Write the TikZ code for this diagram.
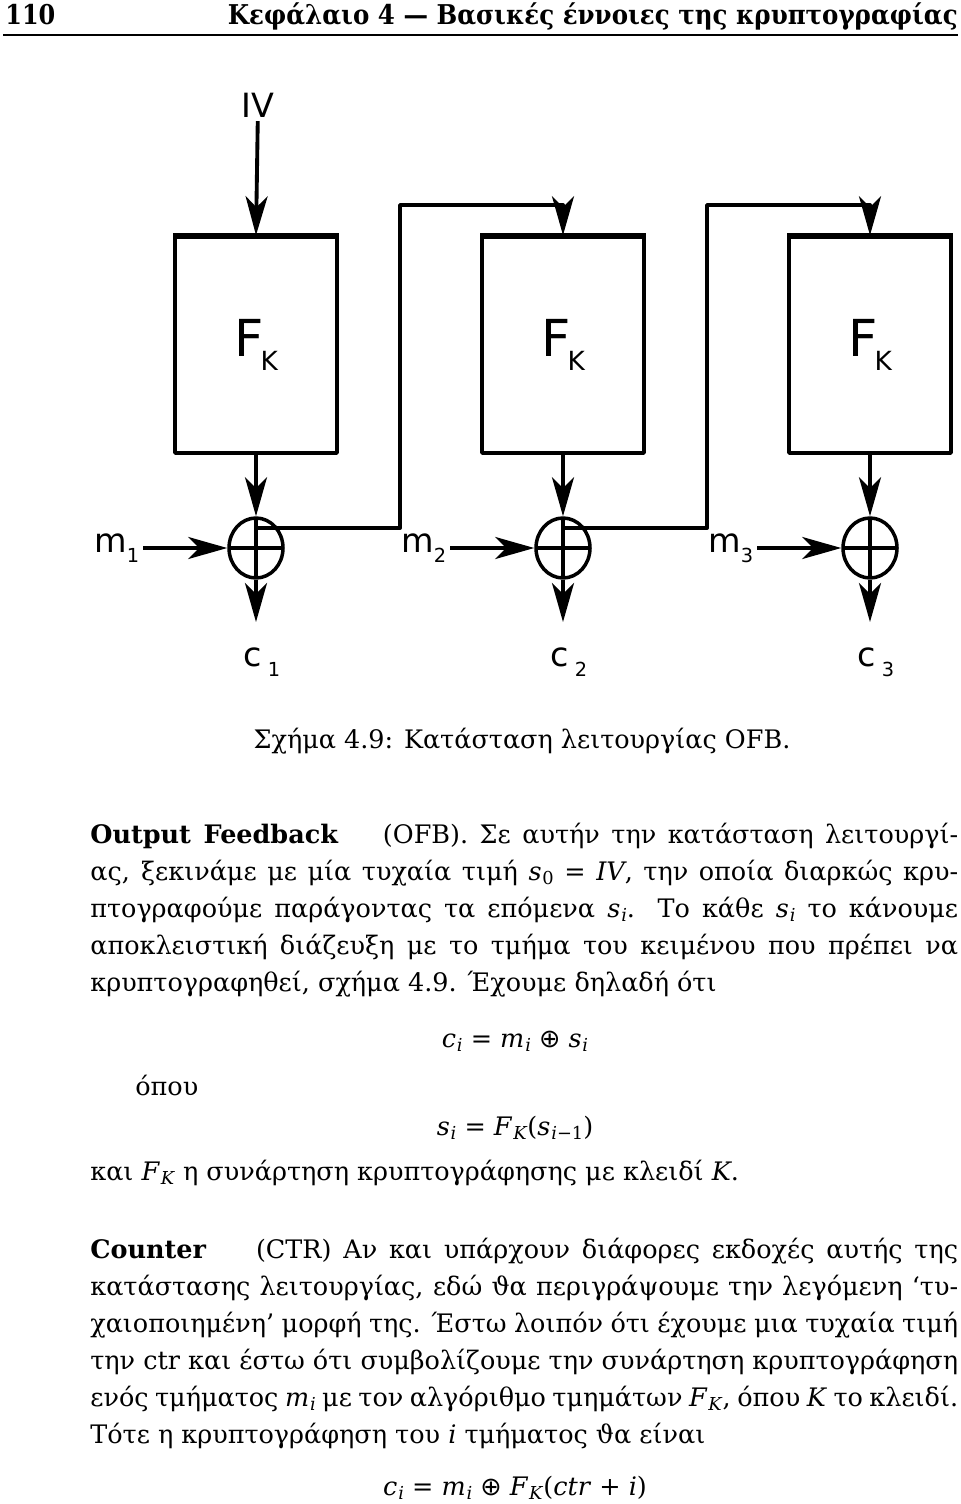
\documentclass[tikz,border=0pt]{standalone}
\usepackage{fontspec}
\setmainfont{DejaVu Serif}
\newfontfamily\sodo{DejaVu Sans}
\usetikzlibrary{arrows.meta,shapes.geometric}
\tikzset{
	khoi/.style={draw, line width=2pt, minimum width=3.24cm, minimum height=4.32cm, inner sep=0pt, font=\sodo\fontsize{29}{30}\selectfont},
	xor/.style={draw, ellipse, line width=2pt, minimum width=1.08cm, minimum height=1.2cm, inner sep=0pt,
		path picture={\draw[line width=2pt] (path picture bounding box.north) -- (path picture bounding box.south)
			(path picture bounding box.west) -- (path picture bounding box.east);}},
	nhan/.style={font=\sodo\fontsize{19}{20}\selectfont, inner sep=2pt},
	muiten/.style={->, line width=2.2pt},
	dautrang/.style={inner sep=0pt, font=\bfseries\fontsize{15.5}{18}\selectfont},
	dong/.style={anchor=base west, inner sep=0pt, font=\fontsize{14.5}{17}\selectfont},
	congthuc/.style={anchor=base, inner sep=0pt, font=\fontsize{14.5}{17}\selectfont},
}
\newcommand{\chiso}[2][-0.2cm]{\raisebox{#1}{\fontsize{11}{11}\selectfont #2}}
\newcommand{\bien}[2]{\textit{#1}\kern0.5pt\raisebox{-0.35ex}{\scalebox{0.7}{#2}}}
\newcommand{\xorr}{{\sodo ⊕}}
\begin{document}
\begin{tikzpicture}[x=0.02cm, y=-0.02cm, line join=round, >={Stealth[length=0.78cm, width=0.44cm, inset=0.22cm]}]
	\useasboundingbox (0,0) rectangle (960,1504);
	%% dau trang
	\node[dautrang, anchor=base west] (trang) at (5,25) {\scalebox{0.88}[1]{110}};
	\node[dautrang, anchor=base east] (tieude) at (958,25) {\scalebox{0.9}[1]{Κεφάλαιο 4 — Βασικές έννοιες της κρυπτογραφίας}};
	\draw[line width=1.1pt] (3,35) -- (958,35);
	
	%% so do OFB
	\node[nhan] (IV) at (258,105) {IV};
	\foreach \i/\x in {1/256,2/563,3/870}{
		\node[khoi] (F\i) at (\x,345) {F\kern-0.06cm\raisebox{-0.28cm}{\fontsize{15}{15}\selectfont K}};
		\draw[line width=3pt] (F\i.north west) -- (F\i.north east);
		\node[xor] (X\i) at (\x,548) {};
		\node[nhan, anchor=east] (m\i) at (\x-113,548) {m\chiso{\i}};
		\node[nhan] (c\i) at (\x+6,662) {c\,\chiso{\i}};
		\coordinate (ra\i) at (\x,622);
		\draw[muiten] (F\i.south) -- (X\i.north);
		\draw[muiten] (m\i.east) -- (X\i.west);
		\draw[muiten] (X\i.south) -- (ra\i);
	}
	\draw[muiten] (IV) -- (F1.north);
	%% vong hoi tiep
	\foreach \i/\j/\x in {1/2/256,2/3/563}{
		\coordinate (r\i) at (\x,528);
		\coordinate (t\i) at (\x+144,205);
		\draw[muiten] (r\i) -| (t\i) -| (F\j.north);
	}
	
	%% chu thich
	\node[congthuc] (chuthich) at (522,748) {Σχήμα 4.9: Κατάσταση λειτουργίας OFB.};
	
	%% van ban OFB
	\foreach \y/\noidung [count=\n] in {
		843/{{\bfseries Output Feedback}\hspace{0.9cm}(OFB). Σε αυτήν την κατάσταση λειτουργί-},
		880/{ας, ξεκινάμε με μία τυχαία τιμή \bien{s}{0} = \textit{IV}, την οποία διαρκώς κρυ-},
		917/{πτογραφούμε παράγοντας τα επόμενα \bien{s}{\textit{i}}. Το κάθε \bien{s}{\textit{i}} το κάνουμε},
		954/{αποκλειστική διάζευξη με το τμήμα του κειμένου που πρέπει να}}
	\node[dong] (a\n) at (90,\y) {\makebox[17.36cm][s]{\noidung}};
	\node[dong] (a5) at (90,991) {κρυπτογραφηθεί, σχήμα 4.9. Έχουμε δηλαδή ότι};
	\node[congthuc] (pt1) at (515,1047) {\bien{c}{\textit{i}} = \bien{m}{\textit{i}} \xorr{} \bien{s}{\textit{i}}};
	\node[dong] (opou) at (135,1095) {όπου};
	\node[congthuc] (pt2) at (515,1135) {\bien{s}{\textit{i}} = \bien{F}{\textit{K}}(\bien{s}{\textit{i}−1})};
	\node[dong] (a6) at (90,1180) {και \bien{F}{\textit{K}} η συνάρτηση κρυπτογράφησης με κλειδί \textit{K}.};
	
	%% van ban CTR
	\foreach \y/\noidung [count=\n] in {
		1258/{{\bfseries Counter}\hspace{1cm}(CTR) Αν και υπάρχουν διάφορες εκδοχές αυτής της},
		1295/{κατάστασης λειτουργίας, εδώ ϑα περιγράψουμε την λεγόμενη ‘τυ-},
		1332/{χαιοποιημένη’ μορφή της. Έστω λοιπόν ότι έχουμε μια τυχαία τιμή},
		1369/{την ctr και έστω ότι συμβολίζουμε την συνάρτηση κρυπτογράφηση},
		1406/{ενός τμήματος \bien{m}{\textit{i}} με τον αλγόριθμο τμημάτων \bien{F}{\textit{K}}, όπου \textit{K} το κλειδί.}}
	\node[dong] (b\n) at (90,\y) {\makebox[17.36cm][s]{\noidung}};
	\node[dong] (b6) at (90,1443) {Τότε η κρυπτογράφηση του \textit{i} τμήματος ϑα είναι};
	\node[congthuc] (pt3) at (515,1495) {\bien{c}{\textit{i}} = \bien{m}{\textit{i}} \xorr{} \bien{F}{\textit{K}}(\textit{ctr} + \textit{i})};
\end{tikzpicture}
\end{document}
